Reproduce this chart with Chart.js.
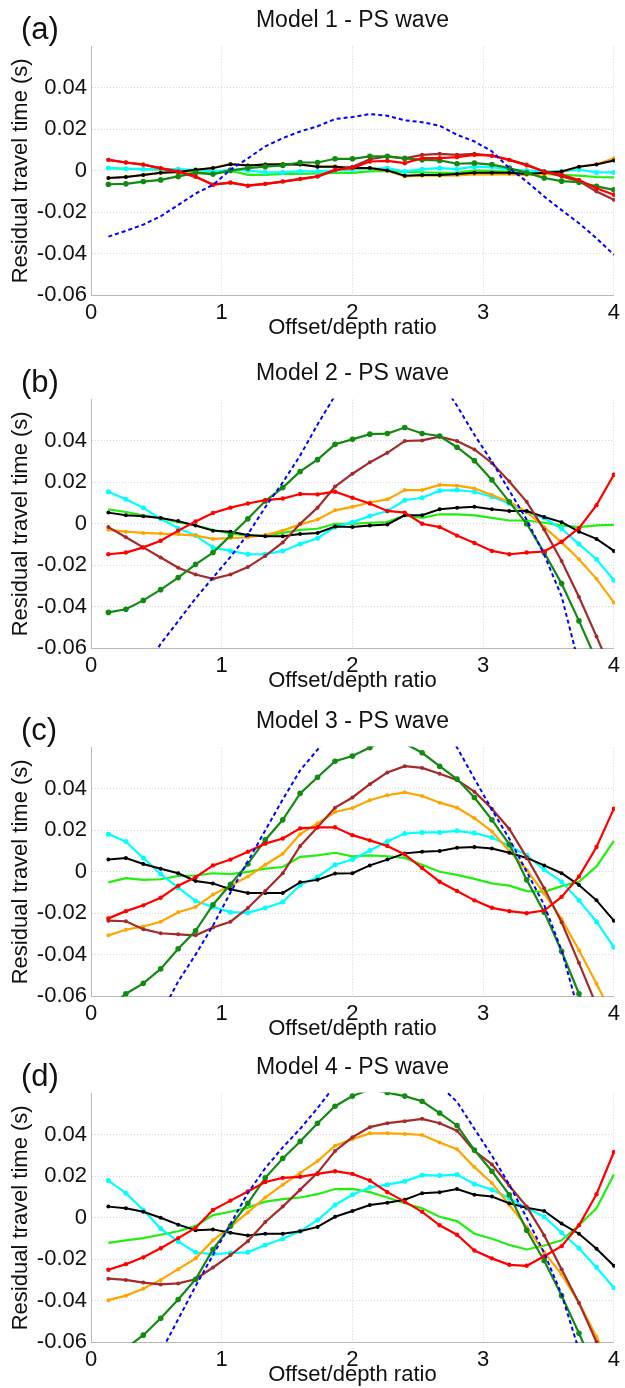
<!DOCTYPE html>
<html>
<head>
<meta charset="utf-8">
<script src="https://cdn.jsdelivr.net/npm/chart.js@4.4.1/dist/chart.umd.min.js"></script>
<style>
  html, body { margin: 0; padding: 0; background: #fff; }
  body { width: 625px; height: 1388px; position: relative; overflow: hidden; }
  canvas { position: absolute; left: 0; }
</style>
</head>
<body>
<canvas id="panelA" width="625" height="345" style="top:0px"></canvas>
<canvas id="panelB" width="625" height="345" style="top:353px"></canvas>
<canvas id="panelC" width="625" height="345" style="top:701px"></canvas>
<canvas id="panelD" width="625" height="345" style="top:1047px"></canvas>
<script>
// offset/depth ratio of each sample
const offsetRatio = [0.133, 0.267, 0.4, 0.533, 0.667, 0.8, 0.933, 1.067, 1.2, 1.333, 1.467, 1.6, 1.733, 1.867, 2.0,
  2.133, 2.267, 2.4, 2.533, 2.667, 2.8, 2.933, 3.067, 3.2, 3.333, 3.467, 3.6, 3.733, 3.867, 4.0];

// Model 1
const m1Blue = [-0.0318, -0.029, -0.026, -0.022, -0.0165, -0.011, -0.0068, 0.0005, 0.006, 0.0118, 0.0158, 0.019, 0.0215, 0.025, 0.026, 0.0274, 0.0266, 0.0244, 0.0235, 0.0218, 0.0174, 0.0142, 0.0094, 0.0013, -0.0052, -0.0124, -0.019, -0.0253, -0.0326, -0.0406];
const m1DarkGreen = [-0.0065, -0.0063, -0.0052, -0.0044, -0.0027, -0.001, -0.0016, 0.0002, 0.0013, 0.002, 0.0026, 0.004, 0.004, 0.0058, 0.0058, 0.007, 0.007, 0.006, 0.0053, 0.005, 0.0034, 0.0037, 0.003, 0.0013, -0.001, -0.0035, -0.005, -0.0055, -0.0075, -0.0092];
const m1Red = [0.0053, 0.004, 0.003, 0.0013, -0.0003, -0.0027, -0.0068, -0.0056, -0.0072, -0.0063, -0.0052, -0.0039, -0.0027, 0.0005, 0.0013, 0.0045, 0.0048, 0.0037, 0.0061, 0.0061, 0.0066, 0.0077, 0.0073, 0.0053, 0.0026, -0.0003, -0.002, -0.0044, -0.0084, -0.0116];
const m1Brown = [0.0053, 0.004, 0.003, 0.0012, -0.0005, -0.003, -0.0066, -0.0058, -0.0072, -0.0063, -0.0052, -0.004, -0.0028, 0.0002, 0.002, 0.0056, 0.007, 0.006, 0.0077, 0.0082, 0.0077, 0.0082, 0.0073, 0.0053, 0.003, -0.0003, -0.0027, -0.005, -0.01, -0.014];
const m1Orange = [-0.0035, -0.003, -0.002, -0.001, -0.0006, 0.0005, 0.0013, 0.0034, 0.0026, 0.003, 0.0033, 0.003, 0.002, 0.0022, 0.0013, 0.0013, 0.0, -0.0027, -0.0024, -0.0024, -0.0022, -0.0017, -0.0017, -0.0017, -0.002, -0.0017, -0.0005, 0.002, 0.0032, 0.0061];
const m1Black = [-0.0035, -0.003, -0.002, -0.001, -0.0006, 0.0005, 0.0013, 0.0032, 0.0026, 0.003, 0.0032, 0.003, 0.002, 0.002, 0.0013, 0.0013, 0.0002, -0.0024, -0.002, -0.002, -0.0015, -0.001, -0.001, -0.001, -0.0015, -0.001, -0.0003, 0.002, 0.003, 0.005];
const m1Cyan = [0.0013, 0.001, 0.0008, 0.0008, 0.0008, 0.0005, -0.0003, 0.0005, 0.0002, -0.0008, -0.0008, -0.0003, -0.0003, 0.0002, 0.0005, 0.001, 0.0013, -0.0003, 0.0008, 0.0013, 0.0008, 0.002, 0.0018, 0.0005, 0.0002, -0.0003, -0.0003, 0.0005, -0.0008, -0.0008];
const m1Lime = [0.0013, 0.001, 0.0008, 0.0005, 0.0, -0.0005, -0.0015, 0.0, -0.002, -0.002, -0.0015, -0.0015, -0.0013, -0.001, -0.001, -0.0003, 0.0, -0.0005, -0.0008, -0.001, -0.001, 0.0002, 0.0, -0.0005, -0.001, -0.0015, -0.002, -0.0023, -0.003, -0.0032];

// Model 2
const m2Blue = [-0.092, -0.083, -0.071, -0.058, -0.047, -0.036, -0.026, -0.016, -0.005, 0.008, 0.02, 0.033, 0.048, 0.062, 0.072, 0.08, 0.085, 0.087, 0.08, 0.07, 0.057, 0.043, 0.03, 0.016, 0.002, -0.015, -0.035, -0.068, -0.095, -0.125];
const m2DarkGreen = [-0.0428, -0.0413, -0.037, -0.0318, -0.026, -0.0196, -0.0139, -0.0057, 0.0024, 0.011, 0.0175, 0.0253, 0.031, 0.0384, 0.0408, 0.0433, 0.0436, 0.0465, 0.0436, 0.0424, 0.037, 0.0305, 0.0212, 0.0106, 0.0, -0.0139, -0.0289, -0.0469, -0.066, -0.0857];
const m2Brown = [-0.0016, -0.0065, -0.0114, -0.0163, -0.0212, -0.0245, -0.0266, -0.0245, -0.0209, -0.0155, -0.009, 0.0, 0.0078, 0.018, 0.0242, 0.0297, 0.0343, 0.04, 0.0403, 0.0421, 0.04, 0.0359, 0.0294, 0.0204, 0.0106, -0.0028, -0.018, -0.0354, -0.0544, -0.074];
const m2Red = [-0.0147, -0.0139, -0.0114, -0.0082, -0.0033, 0.0011, 0.0052, 0.0078, 0.0098, 0.0114, 0.0122, 0.0144, 0.0142, 0.0155, 0.0126, 0.0098, 0.0062, 0.0054, 0.0, -0.0016, -0.0057, -0.0093, -0.0131, -0.0147, -0.0139, -0.0134, -0.0087, -0.0021, 0.009, 0.0237];
const m2Orange = [-0.0029, -0.0038, -0.0044, -0.0047, -0.0051, -0.0057, -0.0073, -0.0069, -0.0065, -0.0054, -0.0033, -0.0003, 0.0021, 0.0065, 0.0082, 0.0103, 0.0118, 0.0163, 0.0163, 0.0188, 0.0184, 0.0171, 0.0139, 0.0106, 0.0057, -0.0016, -0.009, -0.0171, -0.0266, -0.038];
const m2Cyan = [0.0155, 0.0119, 0.0077, 0.0024, -0.0021, -0.0057, -0.0114, -0.0131, -0.0147, -0.0147, -0.0131, -0.0098, -0.007, -0.0016, 0.0008, 0.0038, 0.0062, 0.0114, 0.0126, 0.016, 0.0163, 0.0155, 0.0131, 0.0098, 0.0057, 0.0028, -0.0024, -0.0098, -0.0171, -0.0273];
const m2Lime = [0.007, 0.0057, 0.0041, 0.0028, 0.0008, -0.0008, -0.0029, -0.0046, -0.0057, -0.0057, -0.0044, -0.0029, -0.0024, 0.0, 0.0, 0.0005, 0.0008, 0.0041, 0.0029, 0.0046, 0.0046, 0.0041, 0.0029, 0.0016, 0.0016, 0.0005, -0.0008, -0.0016, -0.0008, -0.0005];
const m2Black = [0.0054, 0.0041, 0.0036, 0.0028, 0.0013, -0.0008, -0.0033, -0.0038, -0.0054, -0.006, -0.006, -0.0049, -0.0044, -0.0013, -0.0016, -0.0008, -0.0003, 0.0041, 0.0041, 0.007, 0.0077, 0.0082, 0.007, 0.0062, 0.0062, 0.0033, 0.0008, -0.0038, -0.0073, -0.0131];

// Model 3
const m3Blue = [-0.11, -0.098, -0.085, -0.069, -0.053, -0.04, -0.026, -0.01, 0.005, 0.02, 0.035, 0.049, 0.059, 0.07, 0.078, 0.084, 0.087, 0.087, 0.083, 0.074, 0.06, 0.045, 0.03, 0.016, 0.0, -0.016, -0.038, -0.068, -0.095, -0.125];
const m3DarkGreen = [-0.066, -0.0589, -0.0539, -0.0469, -0.0372, -0.0285, -0.0159, -0.006, 0.0038, 0.0154, 0.0251, 0.0379, 0.0457, 0.0534, 0.0559, 0.06, 0.064, 0.062, 0.0575, 0.051, 0.0448, 0.0359, 0.0251, 0.0133, -0.0039, -0.0195, -0.0384, -0.0589, -0.08, -0.1];
const m3Brown = [-0.0236, -0.0239, -0.0277, -0.0297, -0.0302, -0.0307, -0.0269, -0.0241, -0.0175, -0.0093, -0.0007, 0.0125, 0.0215, 0.031, 0.0359, 0.0423, 0.048, 0.051, 0.0502, 0.0474, 0.0444, 0.0387, 0.0305, 0.0207, 0.007, -0.008, -0.0244, -0.0441, -0.0646, -0.085];
const m3Orange = [-0.0307, -0.028, -0.0264, -0.0241, -0.0195, -0.017, -0.011, -0.0067, -0.0023, 0.0034, 0.0087, 0.0182, 0.0234, 0.0289, 0.0308, 0.0346, 0.037, 0.0384, 0.0366, 0.0334, 0.031, 0.0259, 0.0195, 0.01, 0.001, -0.0105, -0.0228, -0.0379, -0.054, -0.071];
const m3Red = [-0.0225, -0.019, -0.0162, -0.0125, -0.0067, -0.0026, 0.0031, 0.0059, 0.0097, 0.0136, 0.0161, 0.021, 0.0215, 0.0215, 0.0177, 0.0152, 0.0125, 0.0084, 0.0018, -0.0048, -0.0093, -0.0138, -0.0174, -0.019, -0.02, -0.0187, -0.0121, -0.0023, 0.012, 0.0305];
const m3Cyan = [0.0182, 0.0146, 0.0067, -0.0011, -0.0077, -0.0141, -0.017, -0.0195, -0.0198, -0.0175, -0.0146, -0.0064, -0.0025, 0.0034, 0.0059, 0.0103, 0.0146, 0.0185, 0.019, 0.019, 0.0198, 0.0187, 0.0166, 0.0125, 0.008, 0.001, -0.0048, -0.0138, -0.0241, -0.0364];
const m3Lime = [-0.0051, -0.0031, -0.0039, -0.0036, -0.002, -0.0018, -0.0007, -0.0011, 0.0, 0.0015, 0.0023, 0.0072, 0.0079, 0.0092, 0.0075, 0.0079, 0.0075, 0.0067, 0.0034, 0.0, -0.0015, -0.0034, -0.0056, -0.0067, -0.0093, -0.0097, -0.0069, -0.0048, 0.0026, 0.0149];
const m3Black = [0.0059, 0.0067, 0.0038, 0.0015, -0.0007, -0.0044, -0.0056, -0.0084, -0.0102, -0.0102, -0.0102, -0.0051, -0.0039, -0.0008, -0.0007, 0.0031, 0.0059, 0.0089, 0.0097, 0.01, 0.0116, 0.012, 0.0113, 0.0092, 0.0067, 0.0031, -0.0007, -0.0064, -0.0138, -0.0236];

// Model 4
const m4Blue = [-0.11, -0.095, -0.08, -0.065, -0.049, -0.033, -0.018, -0.003, 0.012, 0.024, 0.034, 0.043, 0.053, 0.064, 0.072, 0.078, 0.08, 0.079, 0.074, 0.064, 0.056, 0.043, 0.03, 0.016, 0.0, -0.017, -0.037, -0.064, -0.09, -0.12];
const m4DarkGreen = [-0.072, -0.063, -0.0567, -0.0485, -0.0395, -0.0297, -0.0153, -0.004, 0.007, 0.0193, 0.0287, 0.0369, 0.0457, 0.0539, 0.0588, 0.062, 0.0605, 0.0588, 0.0563, 0.0506, 0.0446, 0.0327, 0.0225, 0.0111, -0.006, -0.0207, -0.0376, -0.0558, -0.075, -0.095];
const m4Brown = [-0.0294, -0.03, -0.0313, -0.0322, -0.0317, -0.0297, -0.024, -0.018, -0.0113, -0.002, 0.0054, 0.0136, 0.0217, 0.0323, 0.0389, 0.0438, 0.0457, 0.0467, 0.0478, 0.0457, 0.0421, 0.0323, 0.0258, 0.0155, 0.0054, -0.0085, -0.0248, -0.0411, -0.06, -0.0787];
const m4Orange = [-0.0398, -0.0376, -0.0343, -0.03, -0.0248, -0.0196, -0.0109, -0.0044, 0.0026, 0.0098, 0.016, 0.0217, 0.0274, 0.0348, 0.038, 0.0408, 0.0408, 0.0405, 0.04, 0.0364, 0.0331, 0.0245, 0.0168, 0.0062, -0.0044, -0.0167, -0.0273, -0.0411, -0.0575, -0.0754];
const m4Red = [-0.0251, -0.0224, -0.0191, -0.0147, -0.0098, -0.0049, 0.0038, 0.0083, 0.0127, 0.0173, 0.0193, 0.0198, 0.0212, 0.0225, 0.0212, 0.018, 0.0124, 0.0078, 0.0029, -0.0036, -0.0082, -0.0158, -0.0196, -0.0227, -0.0232, -0.0186, -0.0137, -0.0036, 0.0114, 0.0318];
const m4Cyan = [0.018, 0.0119, 0.0038, -0.0052, -0.0114, -0.0167, -0.0175, -0.017, -0.0167, -0.0131, -0.0101, -0.0065, -0.0011, 0.0062, 0.0111, 0.0147, 0.016, 0.0176, 0.0206, 0.0204, 0.0209, 0.0163, 0.0136, 0.0095, 0.0046, 0.0005, -0.0072, -0.0147, -0.024, -0.0338];
const m4Lime = [-0.0121, -0.0109, -0.0098, -0.0082, -0.0065, -0.0039, 0.0013, 0.0029, 0.0049, 0.0078, 0.009, 0.0098, 0.0114, 0.0139, 0.014, 0.0124, 0.0098, 0.007, 0.0046, 0.0005, -0.0016, -0.0077, -0.0101, -0.0131, -0.0153, -0.0134, -0.0109, -0.0036, 0.0046, 0.0209];
const m4Black = [0.0054, 0.0046, 0.0029, 0.0, -0.0033, -0.006, -0.0056, -0.0072, -0.0085, -0.0077, -0.0077, -0.0065, -0.0044, 0.0005, 0.0033, 0.0062, 0.0073, 0.0087, 0.0119, 0.0124, 0.0139, 0.0111, 0.0103, 0.007, 0.0049, 0.0033, -0.0028, -0.0077, -0.015, -0.0232];

const panels = [
  { id: 'panelA', letter: '(a)', title: 'Model 1 - PS wave', series: [m1Blue, m1Red, m1DarkGreen, m1Brown, m1Black, m1Orange, m1Cyan, m1Lime] },
  { id: 'panelB', letter: '(b)', title: 'Model 2 - PS wave', series: [m2Blue, m2Red, m2DarkGreen, m2Brown, m2Black, m2Orange, m2Cyan, m2Lime] },
  { id: 'panelC', letter: '(c)', title: 'Model 3 - PS wave', series: [m3Blue, m3Red, m3DarkGreen, m3Brown, m3Black, m3Orange, m3Cyan, m3Lime] },
  { id: 'panelD', letter: '(d)', title: 'Model 4 - PS wave', series: [m4Blue, m4Red, m4DarkGreen, m4Brown, m4Black, m4Orange, m4Cyan, m4Lime] },
];

// same order as panel.series (first one is drawn on top)
const seriesStyles = [
  { color: '#0000ff', width: 2, dash: [4, 3], radius: 0 },
  { color: '#ff0000', width: 2.2, radius: 2.2 },
  { color: '#138a13', width: 2.2, radius: 2.8 },
  { color: '#a52a2a', width: 2.2, radius: 2 },
  { color: '#000000', width: 2, radius: 2 },
  { color: '#ffa500', width: 2.2, radius: 2 },
  { color: '#00ffff', width: 2.2, radius: 2.5 },
  { color: '#22ee11', width: 2.2, radius: 0 },
];

const FONT = "'Liberation Sans', Arial, sans-serif";
Chart.defaults.font.family = FONT;
Chart.defaults.color = '#111';

const panelLetter = {
  id: 'panelLetter',
  afterDraw(chart, args, opts) {
    const ctx = chart.ctx;
    ctx.save();
    ctx.font = '31px ' + FONT;
    ctx.fillStyle = '#111';
    ctx.textBaseline = 'middle';
    ctx.fillText(opts.text, 21, 30);
    ctx.restore();
  }
};

const isTop = v => Math.abs(v - 0.06) < 1e-6;

panels.forEach(p => {
  new Chart(document.getElementById(p.id), {
    type: 'line',
    data: {
      datasets: p.series.map((vals, i) => {
        const st = seriesStyles[i];
        return {
          data: vals.map((y, k) => ({ x: offsetRatio[k], y: y })),
          borderColor: st.color,
          borderWidth: st.width,
          borderDash: st.dash || [],
          pointRadius: st.radius,
          pointBackgroundColor: st.color,
          pointBorderColor: st.color,
          pointBorderWidth: 0,
          tension: 0,
          fill: false,
          clip: 1
        };
      })
    },
    options: {
      responsive: false,
      animation: false,
      events: [],
      layout: { padding: { left: 0, right: 6, top: 0, bottom: 0 } },
      plugins: {
        legend: { display: false },
        tooltip: { enabled: false },
        title: {
          display: true, text: p.title, fullSize: false, color: '#111',
          font: { size: 23, weight: 'normal' }, padding: { top: 7, bottom: 12 }
        },
        panelLetter: { text: p.letter }
      },
      scales: {
        x: {
          type: 'linear', min: 0, max: 4,
          ticks: { stepSize: 1, padding: 5, maxRotation: 0, autoSkip: false, color: '#111', font: { size: 22 }, callback: v => String(v) },
          grid: { color: '#d3d3d3', drawTicks: false },
          border: { color: '#b8b8b8', dash: [1, 2] },
          title: { display: true, text: 'Offset/depth ratio', color: '#111', font: { size: 22 }, padding: { top: 0, bottom: 4 } },
          afterFit: s => { s.height = 50; }
        },
        y: {
          min: -0.06, max: 0.06,
          ticks: {
            stepSize: 0.02, padding: 4, color: '#111', font: { size: 22 },
            callback: v => isTop(v) ? '' : (Math.abs(v) < 1e-6 ? '0' : v.toFixed(2))
          },
          grid: { color: c => (c.tick && isTop(c.tick.value)) ? 'rgba(0,0,0,0)' : '#d3d3d3', drawTicks: false },
          border: { color: '#b8b8b8', dash: [1, 2] },
          title: { display: true, text: 'Residual travel time (s)', color: '#111', font: { size: 22 }, padding: { top: 8, bottom: 0 } },
          afterFit: s => { s.width = 91; }
        }
      }
    },
    plugins: [panelLetter]
  });
});
</script>
</body>
</html>
